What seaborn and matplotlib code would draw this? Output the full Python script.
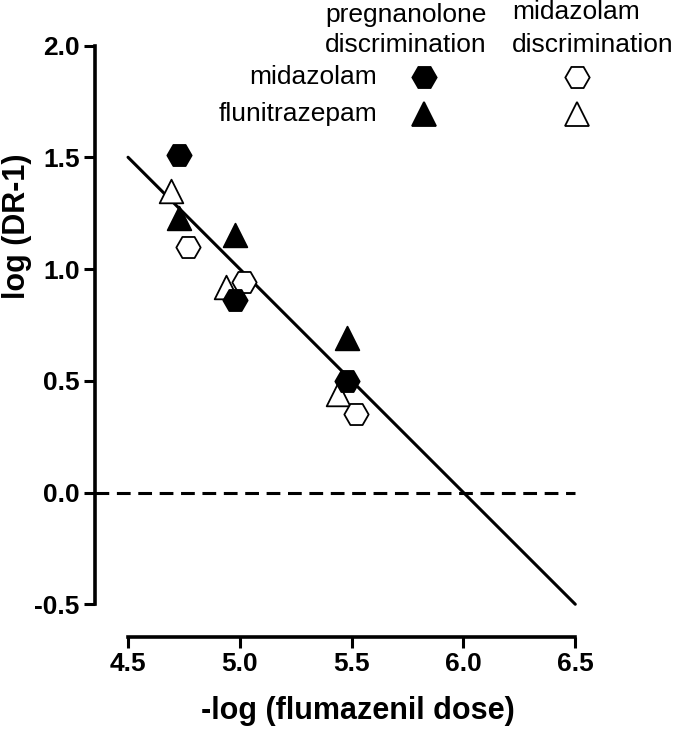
import matplotlib
matplotlib.use('Agg')
import matplotlib.pyplot as plt
from matplotlib.lines import Line2D
import seaborn as sns
import pandas as pd

# Data
preg_mid_x = [4.73, 4.98, 5.48]
preg_mid_y = [1.51, 0.86, 0.50]
preg_flu_x = [4.73, 4.98, 5.48]
preg_flu_y = [1.23, 1.15, 0.69]
mdz_mid_x = [4.77, 5.02, 5.52]
mdz_mid_y = [1.10, 0.94, 0.35]
mdz_flu_x = [4.69, 4.94, 5.44]
mdz_flu_y = [1.35, 0.92, 0.44]

fit_x = [4.5, 6.5]
fit_y = [1.5, -0.5]

x_ticks = [4.5, 5.0, 5.5, 6.0, 6.5]
y_ticks = [-0.5, 0.0, 0.5, 1.0, 1.5, 2.0]

sns.set_style('ticks')
plt.rcParams['font.family'] = ['Liberation Sans', 'DejaVu Sans']
plt.rcParams.update({'text.color': 'black', 'axes.labelcolor': 'black',
                     'xtick.color': 'black', 'ytick.color': 'black',
                     'axes.edgecolor': 'black'})

rows = []
for disc, drug, xs, ys in [('pregnanolone', 'midazolam', preg_mid_x, preg_mid_y),
                           ('pregnanolone', 'flunitrazepam', preg_flu_x, preg_flu_y),
                           ('midazolam', 'midazolam', mdz_mid_x, mdz_mid_y),
                           ('midazolam', 'flunitrazepam', mdz_flu_x, mdz_flu_y)]:
    for x, y in zip(xs, ys):
        rows.append({'x': x, 'y': y, 'disc': disc, 'drug': drug})
df = pd.DataFrame(rows)

fig = plt.figure(figsize=(6.75, 7.31), dpi=100)
ax = fig.add_axes([95 / 675, 94 / 731, 525 / 675, 637 / 731])

# zero line and Schild regression line
ax.plot([4.3523, 6.5], [0, 0], color='black', lw=2.2, ls=(0, (4.5, 2.5)), zorder=1)
sns.lineplot(x=fit_x, y=fit_y, color='black', lw=2.2, ax=ax, zorder=2)

markers = {'midazolam': 'H', 'flunitrazepam': '^'}
sizes = {'midazolam': 17.5, 'flunitrazepam': 17}
for (disc, drug), g in df.groupby(['disc', 'drug']):
    filled = disc == 'pregnanolone'
    sns.scatterplot(data=g, x='x', y='y', marker=markers[drug], s=sizes[drug] ** 2,
                    facecolor='black' if filled else 'white', edgecolor='black',
                    linewidth=1.3, ax=ax, zorder=3, legend=False)

ax.set_xlim(4.3523, 6.7)
ax.set_ylim(-0.6465, 2.2036)
ax.set_xticks(x_ticks)
ax.set_yticks(y_ticks)
ax.set_xticklabels([f'{v:.1f}' for v in x_ticks], fontweight='bold', fontsize=19)
ax.set_yticklabels([f'{v:.1f}' for v in y_ticks], fontweight='bold', fontsize=19)
ax.tick_params(width=2.2, length=8, pad=3)
for s in ['top', 'right']:
    ax.spines[s].set_visible(False)
ax.spines['left'].set_linewidth(2.6)
ax.spines['bottom'].set_linewidth(2.6)
ax.spines['left'].set_bounds(-0.5, 2.0)
ax.spines['bottom'].set_bounds(4.5, 6.5)

ax.set_xlabel('-log (flumazenil dose)', fontweight='bold', fontsize=22, labelpad=14)
ax.set_ylabel('')

# legend laid out as a small table
def fx(px):
    return px / 675

def fy(py):
    return 1 - py / 731

fig.text(fx(17), fy(226), 'log (DR-1)', fontweight='bold', fontsize=22,
         rotation=90, ha='center', va='center')

fs = 19
fig.text(fx(325), fy(15), 'pregnanolone', fontsize=fs, ha='left', va='center')
fig.text(fx(325), fy(45), 'discrimination', fontsize=fs, ha='left', va='center')
fig.text(fx(512), fy(12), 'midazolam', fontsize=fs, ha='left', va='center')
fig.text(fx(512), fy(45), 'discrimination', fontsize=fs, ha='left', va='center')
fig.text(fx(377), fy(77), 'midazolam', fontsize=fs, ha='right', va='center')
fig.text(fx(377), fy(114), 'flunitrazepam', fontsize=fs, ha='right', va='center')
for px, face in [(424, 'black'), (577, 'white')]:
    fig.add_artist(Line2D([fx(px)], [fy(77)], transform=fig.transFigure, marker='H',
                          ms=17.5, mfc=face, mec='black', mew=1.3, ls='none'))
    fig.add_artist(Line2D([fx(px)], [fy(114)], transform=fig.transFigure, marker='^',
                          ms=17, mfc=face, mec='black', mew=1.3, ls='none'))

fig.savefig('out.png', dpi=100)
